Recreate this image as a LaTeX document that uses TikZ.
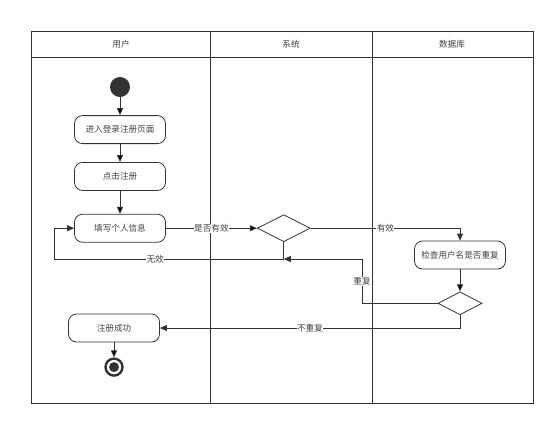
\documentclass[tikz,border=0pt]{standalone}
\usepackage{fontspec}
\setmainfont{Noto Sans CJK SC}
\usetikzlibrary{arrows.meta,positioning,shapes.geometric}

\tikzset{
  lane/.style={draw=black!80, line width=0.8pt},
  action/.style={draw=black!80, line width=0.8pt, rounded corners=8pt, minimum width=91pt, minimum height=28pt, align=center},
  choice/.style={diamond, draw=black!80, line width=0.8pt, minimum width=53pt, minimum height=27pt, inner sep=0pt},
  initstate/.style={circle, fill=black!80, minimum size=20pt, inner sep=0pt},
  finalstate/.style={circle, draw=black!80, line width=2.4pt, minimum size=17pt, inner sep=0pt,
    path picture={\fill[black!80] (path picture bounding box.center) circle (5pt);}},
  flow/.style={draw=black!80, line width=0.8pt, -{Triangle[length=7pt,width=6pt]}},
  guard/.style={fill=white, inner sep=0.5pt}
}

\begin{document}
\begin{tikzpicture}[x=1pt, y=-1pt, font=\fontsize{8.6}{10}\selectfont, text=black!75]
  \useasboundingbox (0,0) rectangle (554,424);

  % swimlanes
  \draw[lane] (31,31) rectangle (533,403);
  \draw[lane] (31,57) -- (533,57);
  \draw[lane] (210,31) -- (210,403);
  \draw[lane] (372,31) -- (372,403);
  \node (user) at (121,44) {用户};
  \node (sys) at (291,44) {系统};
  \node (db) at (452,44) {数据库};

  % activities
  \node[initstate] (start) at (120,87) {};
  \node[action, below=18pt of start] (enter) {进入登录注册页面};
  \node[action, below=18pt of enter] (click) {点击注册};
  \node[action, below=23pt of click] (fill) {填写个人信息};
  \node[choice, right=91pt of fill] (valid) {};
  \node[action] (check) at (460,255) {检查用户名是否重复};
  \node[choice, minimum width=44pt, minimum height=23pt, below=22pt of check] (dup) {};
  \node[action] (done) at (114,328) {注册成功};
  \node[finalstate, below=15pt of done] (end) {};

  \coordinate (loopcorner) at (54,259);
  \coordinate (merge) at (valid.south |- loopcorner);
  \coordinate (retry) at (362,259);

  % transitions
  \path[flow]
    (start) edge (enter)
    (enter) edge (click)
    (click) edge (fill)
    (fill) edge node[guard] {是否有效} (valid)
    (check) edge (dup)
    (done) edge (end);
  \draw[flow] (valid.east) -| node[guard, pos=0.25] {有效} (check.north);
  \draw[flow] (valid.south) |- node[guard, pos=0.78] {无效} (loopcorner) |- (fill.west);
  \draw[flow] (dup.west) -| node[guard, pos=0.75] {重复} (retry) -- (merge);
  \draw[flow] (dup.south) |- node[guard, pos=0.75] {不重复} (done.east);
\end{tikzpicture}
\end{document}
